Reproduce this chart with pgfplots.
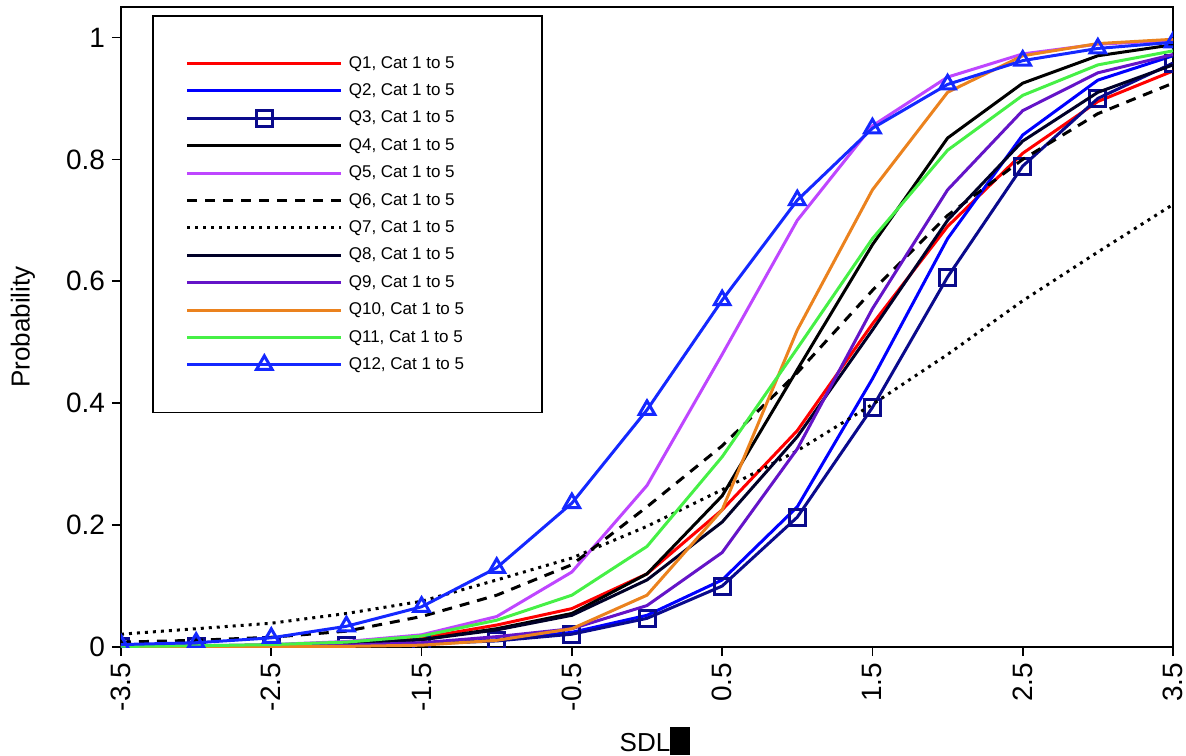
\documentclass[border=0pt]{standalone}
\usepackage{pgfplots}
\pgfplotsset{compat=1.18}
\usepackage{pgfplotstable}
\usepackage{fontspec}
\setmainfont{Liberation Sans}

\definecolor{qred}{RGB}{255,0,0}
\definecolor{qblue}{RGB}{0,0,255}
\definecolor{qnavy}{RGB}{10,10,140}
\definecolor{qviolet}{RGB}{190,70,255}
\definecolor{qdark}{RGB}{0,0,40}
\definecolor{qindigo}{RGB}{100,20,200}
\definecolor{qorange}{RGB}{235,130,30}
\definecolor{qgreen}{RGB}{70,240,70}
\definecolor{qtri}{RGB}{20,40,255}

% probability curves, one column per question
\pgfplotstableread{
x     q1     q2      q3     q4     q5     q6     q7     q8     q9      q10    q11    q12
-3.5  0.001  0.0003  0.0005 0.0008 0.001  0.008  0.021  0.0007 0.0003  0.0001 0.001  0.004
-3.0  0.0015 0.0006  0.001  0.0015 0.002  0.011  0.030  0.0013 0.0006  0.0002 0.002  0.007
-2.5  0.003  0.0012  0.002  0.003  0.004  0.016  0.039  0.0027 0.0012  0.0004 0.004  0.015
-2.0  0.007  0.0025  0.003  0.006  0.009  0.026  0.055  0.006  0.003   0.001  0.008  0.034
-1.5  0.015  0.005   0.005  0.012  0.020  0.050  0.075  0.012  0.007   0.003  0.018  0.066
-1.0  0.036  0.012   0.010  0.030  0.050  0.085  0.110  0.028  0.017   0.011  0.044  0.130
-0.5  0.063  0.024   0.021  0.055  0.123  0.135  0.146  0.052  0.030   0.030  0.085  0.236
 0.0  0.120  0.052   0.047  0.120  0.265  0.230  0.198  0.110  0.068   0.085  0.165  0.389
 0.5  0.225  0.110   0.100  0.248  0.480  0.330  0.258  0.205  0.155   0.225  0.312  0.569
 1.0  0.355  0.230   0.213  0.455  0.700  0.450  0.322  0.345  0.325   0.520  0.490  0.733
 1.5  0.530  0.440   0.393  0.660  0.855  0.585  0.398  0.520  0.555   0.750  0.670  0.851
 2.0  0.690  0.670   0.607  0.835  0.935  0.708  0.480  0.700  0.750   0.910  0.815  0.923
 2.5  0.810  0.840   0.789  0.925  0.973  0.800  0.568  0.830  0.880   0.970  0.905  0.962
 3.0  0.895  0.930   0.900  0.970  0.989  0.875  0.648  0.910  0.942   0.990  0.955  0.982
 3.5  0.945  0.970   0.958  0.988  0.995  0.925  0.726  0.955  0.972   0.997  0.978  0.992
}\probs

\newcommand{\leg}[1]{\makebox[80pt][l]{#1}}

\begin{document}
\begin{tikzpicture}
\begin{axis}[
    name=ax,
    scale only axis,
    width=526pt, height=320pt,
    xmin=-3.5, xmax=3.5,
    ymin=0, ymax=1.05,
    xtick={-3.5,-2.5,-1.5,-0.5,0.5,1.5,2.5,3.5},
    ytick={0,0.2,0.4,0.6,0.8,1},
    tick pos=left,
    tick align=outside,
    major tick length=4.5pt,
    axis line style={line width=0.8pt},
    every tick/.style={black, line width=0.8pt},
    tick label style={font=\fontsize{14}{16}\selectfont},
    xticklabel style={rotate=90, anchor=east},
    /pgf/number format/assume math mode=true,
    xlabel={SDL\rule[-2pt]{10pt}{14pt}},
    ylabel={Probability},
    every axis x label/.style={at={(axis description cs:0.5,0)}, yshift=-40pt, xshift=4pt,
        anchor=north, inner sep=0pt, font=\fontsize{13}{15}\selectfont},
    every axis y label/.style={at={(axis description cs:0,0.5)}, xshift=-49pt,
        rotate=90, anchor=center, inner sep=0pt, font=\fontsize{13}{15}\selectfont},
    clip marker paths=true,
    every axis plot/.append style={line width=1.5pt},
    legend image code/.code={
        \draw[mark repeat=2,mark phase=2,#1] plot coordinates {(0pt,0pt) (38.5pt,0pt) (77pt,0pt)};
    },
    legend style={
        at={(axis description cs:0.0295,0.9875)}, anchor=north west,
        draw=black, line width=0.8pt,
        inner xsep=16.5pt, inner ysep=17pt,
        column sep=3pt, row sep=0pt,
        font=\fontsize{8.5}{10}\selectfont,
        nodes={inner sep=0pt, text height=9.2pt, text depth=4.5pt},
    },
    legend cell align=left,
]
\addplot[qred] table[x=x, y=q1] {\probs};
\addlegendentry{\leg{Q1, Cat 1 to 5}}
\addplot[qblue] table[x=x, y=q2] {\probs};
\addlegendentry{\leg{Q2, Cat 1 to 5}}
\addplot[qnavy, mark=square, mark size=4pt,
    mark options={solid, fill=white, line width=1.5pt}] table[x=x, y=q3] {\probs};
\addlegendentry{\leg{Q3, Cat 1 to 5}}
\addplot[black] table[x=x, y=q4] {\probs};
\addlegendentry{\leg{Q4, Cat 1 to 5}}
\addplot[qviolet] table[x=x, y=q5] {\probs};
\addlegendentry{\leg{Q5, Cat 1 to 5}}
\addplot[black, dash pattern=on 5pt off 4pt] table[x=x, y=q6] {\probs};
\addlegendentry{\leg{Q6, Cat 1 to 5}}
\addplot[black, dash pattern=on 1.5pt off 2.5pt] table[x=x, y=q7] {\probs};
\addlegendentry{\leg{Q7, Cat 1 to 5}}
\addplot[qdark] table[x=x, y=q8] {\probs};
\addlegendentry{\leg{Q8, Cat 1 to 5}}
\addplot[qindigo] table[x=x, y=q9] {\probs};
\addlegendentry{\leg{Q9, Cat 1 to 5}}
\addplot[qorange] table[x=x, y=q10] {\probs};
\addlegendentry{\leg{Q10, Cat 1 to 5}}
\addplot[qgreen] table[x=x, y=q11] {\probs};
\addlegendentry{\leg{Q11, Cat 1 to 5}}
\addplot[qtri, mark=triangle, mark size=4.5pt,
    mark options={solid, fill=white, line width=1.5pt}] table[x=x, y=q12] {\probs};
\addlegendentry{\leg{Q12, Cat 1 to 5}}
\end{axis}
\pgfresetboundingbox
\path ([shift={(-60.5pt,-54pt)}]ax.south west) rectangle ([shift={(6.5pt,3.5pt)}]ax.north east);
\end{tikzpicture}
\end{document}
